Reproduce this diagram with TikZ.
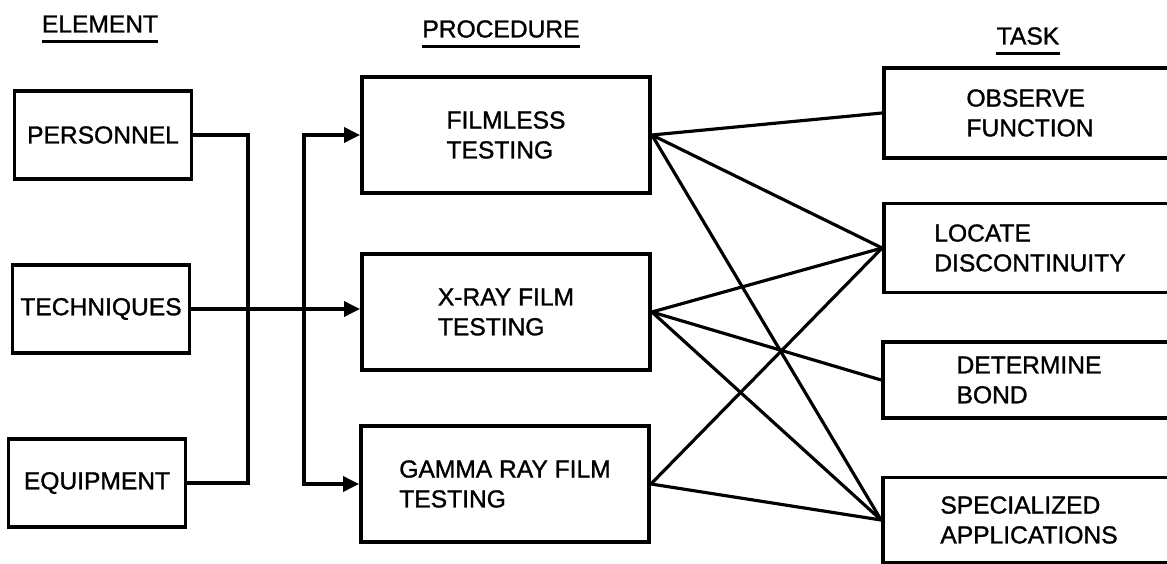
\documentclass[tikz,border=0pt]{standalone}
\usepackage{fontspec}
\setmainfont{Liberation Sans}[FakeBold=1.2]
\usetikzlibrary{arrows.meta}

\tikzset{
  lettering/.style={font=\fontsize{14}{17}\selectfont},
  elembox/.style={draw, line width=2.2pt, lettering, minimum width=3.54cm, minimum height=1.76cm},
  procbox/.style={draw, line width=2.2pt, lettering, align=left, minimum width=5.76cm, minimum height=2.32cm},
  taskbox/.style={draw, line width=2.2pt, lettering, align=left, minimum width=5.84cm},
  heading/.style={lettering, inner sep=0pt},
  wire/.style={line width=1.8pt},
  feed/.style={wire, -{Triangle[length=0.32cm, width=0.3cm]}},
}

\begin{document}
\begin{tikzpicture}[x=0.02cm, y=-0.02cm]
\useasboundingbox (0,0) rectangle (1167,564);

% column headings
\node[heading] (elemhdr) at (100,24) {ELEMENT};
\node[heading] (prochdr) at (501,29) {PROCEDURE};
\node[heading] (taskhdr) at (1028,36) {TASK};
\foreach \h in {elemhdr,prochdr,taskhdr}
  \draw[line width=1.4pt] ([yshift=-0.17cm]\h.south west) -- ([yshift=-0.17cm]\h.south east);

% elements
\node[elembox] (personnel) at (103,135) {PERSONNEL};
\node[elembox] (techniques) at (101,309) {TECHNIQUES};
\node[elembox] (equipment) at (97,483) {EQUIPMENT};

% procedures
\node[procbox] (filmless) at (506,135) {FILMLESS\\TESTING};
\node[procbox] (xray) at (506,312) {X-RAY FILM\\TESTING};
\node[procbox] (gamma) at (505,484) {GAMMA RAY FILM\\TESTING};

% tasks (right edge runs off the page)
\node[taskbox, minimum height=1.8cm] (observe) at (1030,113) {OBSERVE\\FUNCTION};
\node[taskbox, minimum height=1.78cm] (locate) at (1030,248) {LOCATE\\DISCONTINUITY};
\node[taskbox, minimum height=1.52cm] (determine) at (1029,380) {DETERMINE\\BOND};
\node[taskbox, minimum height=1.7cm] (special) at (1029,520) {SPECIALIZED\\APPLICATIONS};

% element bus and feeds into the procedures
\coordinate (joinL) at (248,300);
\coordinate (joinR) at (304,300);
\draw[wire] (personnel.east) -| (joinL) |- (equipment.east);
\draw[feed] (techniques.east) -- (techniques.east -| xray.west);
\draw[feed] (joinR) |- (filmless.west);
\draw[feed] (joinR) |- (gamma.west);

% procedure to task links
\foreach \t in {observe,locate,special}
  \draw[wire] (filmless.east) -- (\t.west);
\foreach \t in {locate,determine,special}
  \draw[wire] (xray.east) -- (\t.west);
\foreach \t in {locate,special}
  \draw[wire] (gamma.east) -- (\t.west);
\end{tikzpicture}
\end{document}
